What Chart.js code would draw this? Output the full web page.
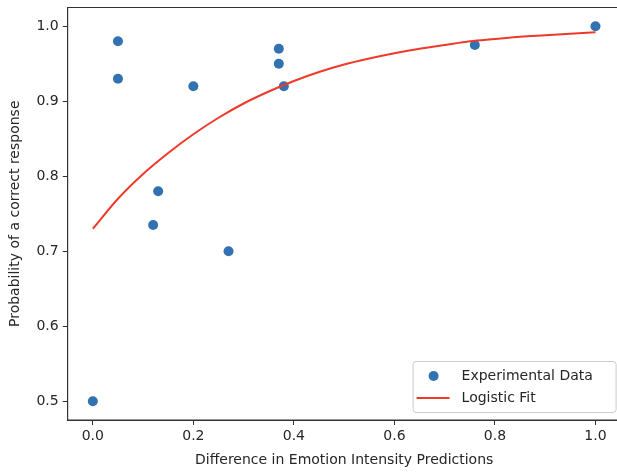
<!DOCTYPE html>
<html>
<head>
<meta charset="utf-8">
<script src="https://cdn.jsdelivr.net/npm/chart.js@4"></script>
<style>
html,body{margin:0;padding:0;background:#fff;overflow:hidden;width:617px;height:474px;}
#wrap{position:absolute;left:0;top:0;width:630px;height:474px;}
</style>
</head>
<body>
<div id="wrap"><canvas id="c" width="630" height="474"></canvas></div>
<script>
// ---- data ----
const expX = [0.00, 0.05, 0.05, 0.12, 0.13, 0.20, 0.27, 0.37, 0.37, 0.38, 0.76, 1.00];
const expY = [0.500, 0.980, 0.930, 0.735, 0.780, 0.920, 0.700, 0.970, 0.950, 0.920, 0.975, 1.000];
const fitX = [0.00, 0.05, 0.10, 0.15, 0.20, 0.25, 0.30, 0.35, 0.40, 0.45, 0.50, 0.55, 0.60, 0.65, 0.70, 0.75, 0.80, 0.85, 0.90, 0.95, 1.00];
const fitY = [0.730, 0.770, 0.803, 0.831, 0.856, 0.878, 0.897, 0.913, 0.927, 0.939, 0.949, 0.957, 0.964, 0.970, 0.975, 0.980, 0.983, 0.986, 0.988, 0.990, 0.992];
const xTicks = [0.0, 0.2, 0.4, 0.6, 0.8, 1.0];
const yTicks = [0.5, 0.6, 0.7, 0.8, 0.9, 1.0];
const seriesLabels = ['Experimental Data', 'Logistic Fit'];
const xTitle = 'Difference in Emotion Intensity Predictions';
const yTitle = 'Probability of a correct response';

const FONT = "'DejaVu Sans', sans-serif";
const TXT = '#262626';
const AX = '#333333';
const BLUE = '#3272b0';
const RED = '#ee3a2a';

const frame = {
  id: 'frame',
  afterDatasetsDraw(chart) {
    const {ctx, chartArea: a} = chart;
    ctx.save();
    ctx.strokeStyle = AX;
    ctx.lineWidth = 1;
    ctx.strokeRect(a.left, a.top, a.right - a.left, a.bottom - a.top);
    ctx.restore();
  }
};

const legendBox = {
  id: 'legendBox',
  afterDraw(chart) {
    const {ctx, chartArea: a} = chart;
    const right = a.right - 5, bottom = a.bottom - 8;
    const w = 203, h = 51;
    const left = right - w, top = bottom - h;
    ctx.save();
    ctx.beginPath();
    ctx.roundRect(left + 0.5, top + 0.5, w, h, 3);
    ctx.fillStyle = 'rgba(255,255,255,0.85)';
    ctx.fill();
    ctx.strokeStyle = '#cccccc';
    ctx.lineWidth = 1;
    ctx.stroke();
    const ds = chart.data.datasets;
    const y1 = top + 15, y2 = top + 37;
    ctx.beginPath();
    ctx.arc(left + 21, y1, 5, 0, Math.PI * 2);
    ctx.fillStyle = ds[0].backgroundColor;
    ctx.fill();
    ctx.beginPath();
    ctx.moveTo(left + 4, y2);
    ctx.lineTo(left + 37, y2);
    ctx.strokeStyle = ds[1].borderColor;
    ctx.lineWidth = 2;
    ctx.stroke();
    ctx.fillStyle = TXT;
    ctx.font = "14px " + FONT;
    ctx.textBaseline = 'middle';
    ctx.textAlign = 'left';
    ctx.fillText(ds[0].label, left + 49, y1);
    ctx.fillText(ds[1].label, left + 49, y2);
    ctx.restore();
  }
};

function noPad(s) { s.paddingTop = 0; s.paddingBottom = 0; s.paddingLeft = 0; s.paddingRight = 0; }

new Chart(document.getElementById('c'), {
  type: 'scatter',
  data: {
    datasets: [
      {
        label: seriesLabels[0],
        data: expX.map((x, i) => ({x, y: expY[i]})),
        backgroundColor: BLUE,
        borderColor: BLUE,
        pointRadius: 5,
        pointBorderWidth: 0,
        order: 2
      },
      {
        type: 'line',
        label: seriesLabels[1],
        data: fitX.map((x, i) => ({x, y: fitY[i]})),
        borderColor: RED,
        backgroundColor: RED,
        borderWidth: 2,
        pointRadius: 0,
        showLine: true,
        fill: false,
        cubicInterpolationMode: 'monotone',
        order: 1
      }
    ]
  },
  options: {
    responsive: false,
    animation: false,
    devicePixelRatio: 1,
    layout: {padding: {left: 0, top: 7.5, right: 9.4, bottom: 0}},
    plugins: {legend: {display: false}, tooltip: {enabled: false}},
    scales: {
      x: {
        type: 'linear',
        min: -0.05,
        max: 1.05,
        afterBuildTicks: s => { s.ticks = xTicks.map(v => ({value: v})); },
        afterFit: s => { s.height = 54; noPad(s); },
        ticks: {
          font: {family: FONT, size: 14},
          color: TXT,
          padding: 3,
          maxRotation: 0,
          callback: v => Number(v).toFixed(1)
        },
        grid: {drawOnChartArea: false, drawTicks: true, tickLength: 5, color: AX, tickWidth: 1},
        border: {display: true, color: AX, width: 1},
        title: {display: true, text: xTitle, font: {family: FONT, size: 14}, color: TXT, padding: {top: 0, bottom: 5}}
      },
      y: {
        type: 'linear',
        min: 0.475,
        max: 1.025,
        afterBuildTicks: s => { s.ticks = yTicks.map(v => ({value: v})); },
        afterFit: s => { s.width = 67.7; noPad(s); },
        ticks: {
          font: {family: FONT, size: 14},
          color: TXT,
          padding: 4,
          callback: v => Number(v).toFixed(1)
        },
        grid: {drawOnChartArea: false, drawTicks: true, tickLength: 5, color: AX, tickWidth: 1},
        border: {display: true, color: AX, width: 1},
        title: {display: true, text: yTitle, font: {family: FONT, size: 14}, color: TXT, padding: {top: 7, bottom: 0}}
      }
    }
  },
  plugins: [frame, legendBox]
});
</script>
</body>
</html>
